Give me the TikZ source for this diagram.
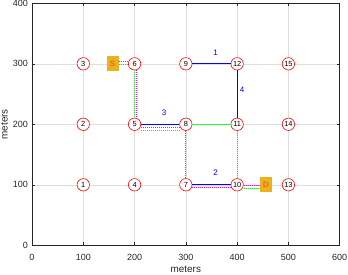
\documentclass[tikz,border=0pt]{standalone}
\usepackage{fontspec}
\setmainfont{Liberation Sans}
\usepackage{tikz}
\usetikzlibrary{positioning}
\usepackage{xcolor}
\definecolor{axisgray}{rgb}{0.15,0.15,0.15}
\definecolor{gridgray}{rgb}{0.87,0.87,0.87}
\definecolor{termfill}{rgb}{0.93,0.69,0.13}
\definecolor{termtext}{rgb}{0.85,0.33,0.10}
\definecolor{hopblue}{rgb}{0,0,1}
\definecolor{circred}{rgb}{1,0,0}
\definecolor{magroute}{rgb}{1,0,1}
\definecolor{greenroute}{rgb}{0,1,0}

\begin{document}
\begin{tikzpicture}[x=1pt, y=1pt, every node/.style={font=\fontsize{9}{10}\selectfont}]
\tikzstyle{vertex}=[draw=circred, line width=0.6pt, fill=white, circle, inner sep=0pt, minimum size=12.4pt, font=\fontsize{7.4}{8}\selectfont]
\tikzstyle{terminal}=[fill=termfill, text=termtext, inner sep=0pt, minimum width=12pt, minimum height=15pt, font=\fontsize{7.8}{8}\selectfont]
\tikzstyle{hop}=[draw=hopblue, line width=1.2pt]
\tikzstyle{routeA}=[draw=magroute, line width=1pt, dash pattern=on 1pt off 1pt]
\tikzstyle{routeB}=[draw=greenroute, line width=1pt, dash pattern=on 1pt off 1pt]
\tikzstyle{cost}=[text=hopblue, font=\fontsize{8}{9}\selectfont]
\tikzstyle{tick}=[draw=axisgray, line width=0.6pt]
\useasboundingbox (0,0) rectangle (348,274);
\begin{scope}[shift={(32pt,28.7pt)}, x=0.5128pt, y=0.605pt]
% grid and axes
\foreach \g in {100,200,...,500} \draw[draw=gridgray, line width=0.5pt] (\g,0) -- (\g,400);
\foreach \g in {100,200,300} \draw[draw=gridgray, line width=0.5pt] (0,\g) -- (600,\g);
\draw[tick] (0,0) rectangle (600,400);
\foreach \g in {0,100,...,600} {
  \draw[tick] (\g,0) -- ([yshift=3pt]\g,0) (\g,400) -- ([yshift=-3pt]\g,400);
  \node[text=axisgray] (xt\g) at ([yshift=-11.7pt]\g,0) {\g};
}
\foreach \g in {0,100,...,400} {
  \draw[tick] (0,\g) -- ([xshift=3pt]0,\g) (600,\g) -- ([xshift=-3pt]600,\g);
  \node[text=axisgray, anchor=east] (yt\g) at ([xshift=-0.7pt]0,\g) {\g};
}
\node[text=axisgray, font=\fontsize{9.9}{11}\selectfont] (xlab) at ([yshift=-24.5pt]300,0) {meters};
\node[text=axisgray, font=\fontsize{9.9}{11}\selectfont, rotate=90] (ylab) at ([xshift=-27.5pt]0,200) {meters};
% network nodes
\foreach \c in {1,...,5}
  \foreach \r in {1,2,3} {
    \pgfmathtruncatemacro{\k}{3*(\c-1)+\r}
    \node[vertex] (v\k) at (100*\c,100*\r) {\k};
  }
\node[terminal] (src) at (157,300) {S};
\node[terminal] (dst) at (456,100) {D};
% numbered hops
\draw[hop] (v9) -- node[cost, xshift=4pt, yshift=11.5pt] {1} (v12);
\draw[hop] (v7) -- node[cost, xshift=4pt, yshift=12.5pt] {2} (v10);
\draw[hop] (v5) -- node[cost, xshift=4pt, yshift=12pt] {3} (v8);
\draw[hop] (v12) -- node[cost, xshift=5pt, yshift=4pt] {4} (v11);
% first route
\draw[routeA] ([yshift=2.3pt]src.east) -- ([yshift=2.3pt]v6.west);
\draw[routeA] ([xshift=1.8pt]v6.south) -- ([xshift=1.8pt]v5.north);
\draw[routeA] ([yshift=-2.7pt]v5.east) -- ([yshift=-2.7pt]v8.west);
\draw[routeA] (v8) -- (v7);
\draw[routeA] ([yshift=-3pt]v7.east) -- ([yshift=-3pt]v10.west);
\draw[routeA] ([yshift=-0.5pt]v10.east) -- ([yshift=-0.5pt]dst.west);
% second route
\draw[routeB] ([yshift=-0.7pt]src.east) -- ([yshift=-0.7pt]v6.west);
\draw[routeB] ([xshift=-0.5pt]v6.south) -- ([xshift=-0.5pt]v5.north);
\draw[routeB] ([yshift=-5.7pt]v5.east) -- ([yshift=-5.7pt]v8.west);
\draw[routeB] (v8) -- (v11);
\draw[routeB] (v11) -- (v10);
\draw[routeB] ([yshift=-3.2pt]v10.east) -- ([yshift=-3.2pt]dst.west);
\end{scope}
\end{tikzpicture}
\end{document}
